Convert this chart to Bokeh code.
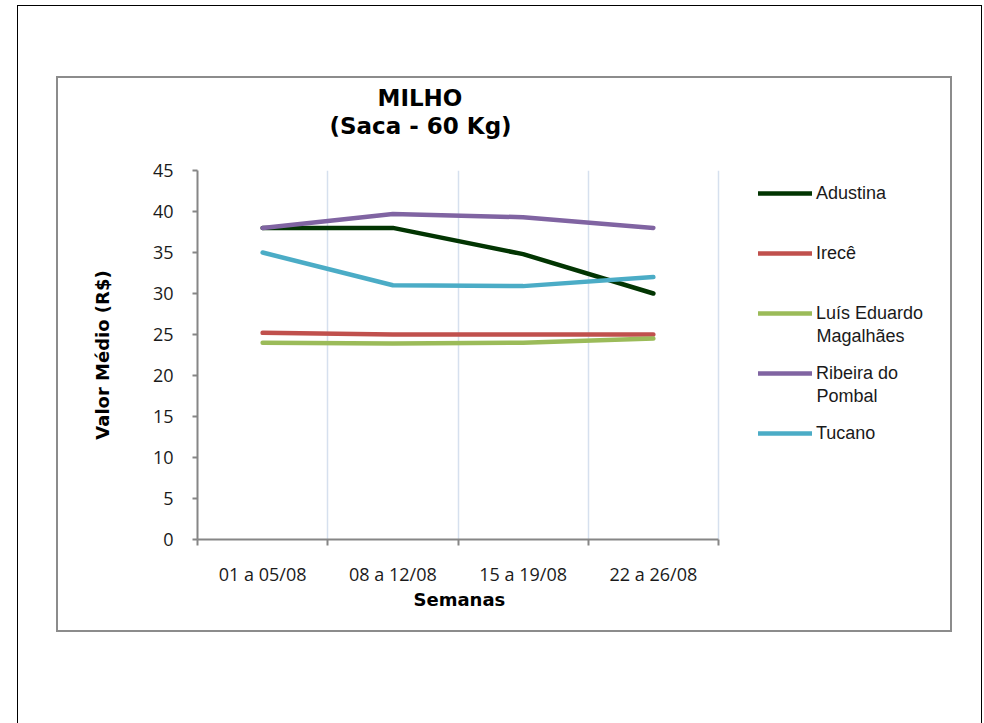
from bokeh.plotting import figure
from bokeh.models import (Range1d, FixedTicker, Legend, LegendItem, Title, Label,
                          InlineStyleSheet)
from bokeh.embed import file_html
from bokeh.resources import INLINE

# ---- data ----
weeks = ["01 a 05/08", "08 a 12/08", "15 a 19/08", "22 a 26/08"]
adustina = [38.0, 38.0, 34.8, 30.0]
irece = [25.2, 25.0, 25.0, 25.0]
luis_eduardo = [24.0, 23.9, 24.0, 24.5]
ribeira = [38.0, 39.7, 39.3, 38.0]
tucano = [35.0, 31.0, 30.9, 32.0]
y_ticks = [0, 5, 10, 15, 20, 25, 30, 35, 40, 45]

# legend labels: first line goes in the legend, second line (if any) below it
series_names = [("Adustina", None), ("Irecê", None), ("Luís Eduardo", "Magalhães"),
                ("Ribeira do", "Pombal"), ("Tucano", None)]
series_values = [adustina, irece, luis_eduardo, ribeira, tucano]
series_colors = ["#023502", "#c0504d", "#9bbb59", "#8064a2", "#4bacc6"]

# ---- layout (pixels) ----
W, H = 984, 723
FL, FR, FT, FB = 197, 718, 170, 539   # plotting area edges (canvas px)
FRX = 950                             # frame extended to the right to hold the legend
YMAX = y_ticks[-1]
NCAT = len(weeks)
XMAX = NCAT * (FRX - FL) / (FR - FL)

def px_x(px):
    return (px - FL) / (FR - FL) * NCAT

def px_y(py):
    return (FB - py) / (FB - FT) * YMAX

p = figure(width=W, height=H, output_backend="svg", toolbar_location=None,
           x_range=Range1d(0, XMAX), y_range=Range1d(0, YMAX), title=None)
p.min_border_left = FL
p.min_border_right = W - FRX
p.min_border_top = FT
p.min_border_bottom = H - FB
p.outline_line_color = None
p.background_fill_color = "white"
p.border_fill_color = "white"

xs = [i + 0.5 for i in range(NCAT)]
renderers = []
for vals, col in zip(series_values, series_colors):
    r = p.line(xs, vals, line_color=col, line_width=4.5,
               line_cap="round", line_join="round")
    renderers.append(r)

# ---- axes ----
axis_gray = "#868686"
tick_font = "Open Sans"
p.xaxis.bounds = (0, NCAT)
p.xaxis.ticker = FixedTicker(ticks=xs, minor_ticks=list(range(NCAT + 1)))
p.xaxis.major_label_overrides = {x: w for x, w in zip(xs, weeks)}
p.xaxis.major_tick_out = 0
p.xaxis.major_tick_in = 0
p.xaxis.minor_tick_out = 6
p.xaxis.minor_tick_in = 0
p.xaxis.minor_tick_line_color = axis_gray
p.xaxis.minor_tick_line_width = 2
p.xaxis.axis_line_color = axis_gray
p.xaxis.axis_line_width = 2
p.xaxis.major_label_text_font = tick_font
p.xaxis.major_label_text_font_size = "18px"
p.xaxis.major_label_text_color = "#1a1a1a"
p.xaxis.major_label_standoff = 16

# x-axis title centred under the category area (frame is wider because of the legend)
p.add_layout(Title(text="Semanas", align="left", offset=216, standoff=0,
                   vertical_align="top", text_font="DejaVu Sans",
                   text_font_style="bold", text_font_size="18px",
                   text_color="black"), "below")

p.yaxis.bounds = (0, YMAX)
p.yaxis.ticker = FixedTicker(ticks=y_ticks)
p.yaxis.minor_tick_line_color = None
p.yaxis.major_tick_out = 5
p.yaxis.major_tick_in = 0
p.yaxis.major_tick_line_color = axis_gray
p.yaxis.major_tick_line_width = 2
p.yaxis.axis_line_color = axis_gray
p.yaxis.axis_line_width = 2
p.yaxis.major_label_text_font = tick_font
p.yaxis.major_label_text_font_size = "18px"
p.yaxis.major_label_text_color = "#1a1a1a"
p.yaxis.major_label_standoff = 19
p.yaxis.axis_label = "Valor Médio (R$)"
p.yaxis.axis_label_text_font = "DejaVu Sans"
p.yaxis.axis_label_text_font_style = "bold"
p.yaxis.axis_label_text_font_size = "18px"
p.yaxis.axis_label_text_color = "black"
p.yaxis.axis_label_standoff = 37

p.xgrid.grid_line_color = None
p.xgrid.minor_grid_line_color = "#d6e0ee"
p.xgrid.minor_grid_line_width = 1.5
p.ygrid.grid_line_color = None

# ---- title (blank spacer + two stacked titles above the frame) ----
p.add_layout(Title(text=" ", text_font_size="2px", standoff=28, text_color="white"), "above")
for txt, off in [("(Saca - 60 Kg)", 132), ("MILHO", 180)]:
    p.add_layout(Title(text=txt, align="left", offset=off, standoff=0,
                       text_font="DejaVu Sans", text_font_style="bold",
                       text_font_size="23px", text_color="black"), "above")

# ---- legend ----
items = [LegendItem(label=n1, renderers=[r]) for (n1, _), r in zip(series_names, renderers)]
legend = Legend(items=items, location=(758 - FL, FB - 444),
                glyph_width=54, glyph_height=22, label_height=22, spacing=38,
                label_standoff=4, padding=0, margin=0,
                border_line_color=None, background_fill_alpha=0,
                label_text_font="Liberation Sans", label_text_font_size="18px",
                label_text_color="#1a1a1a")
p.add_layout(legend)

for k, (_, n2) in enumerate(series_names):
    if n2:
        p.add_layout(Label(x=px_x(816), y=px_y(193 + 60 * k + 22), text=n2,
                           text_align="left", text_baseline="middle",
                           text_font="Liberation Sans", text_font_size="18px",
                           text_color="#1a1a1a"))

# ---- outer frames (CSS overlay) ----
p.stylesheets = [InlineStyleSheet(css="""
:host { position: relative; }
:host::before { content: ""; position: absolute; left: 56px; top: 76px; width: 896px; height: 556px;
  border: 2.5px solid #8c8c8c; box-sizing: border-box; pointer-events: none; z-index: 5; }
:host::after { content: ""; position: absolute; left: 17px; top: 5px; width: 965px; height: 800px;
  border: 1.5px solid black; box-sizing: border-box; pointer-events: none; z-index: 5; }
""")]

open("out.html", "w").write(file_html(p, INLINE))
